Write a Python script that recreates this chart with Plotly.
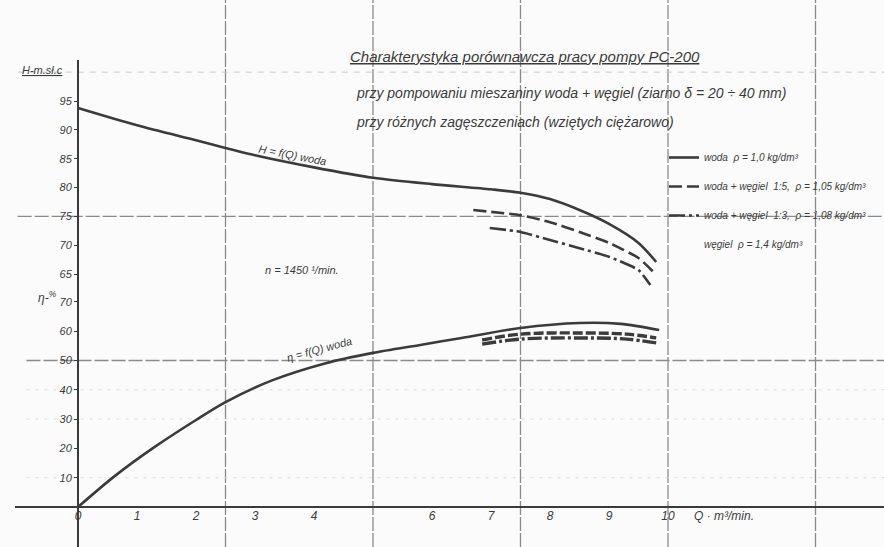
import plotly.graph_objects as go

# ---------------- data ----------------
Q_h_woda = [0, 1, 2, 3, 4, 5, 6, 7, 7.5, 8, 8.5, 9, 9.5, 9.8]
H_woda = [93.8, 90.8, 88.2, 85.6, 83.5, 81.7, 80.6, 79.7, 79.1, 78.0, 76.1, 73.7, 70.4, 67.1]

Q_h_15 = [6.7, 7.5, 8, 8.5, 9, 9.5, 9.75]
H_15 = [76.1, 75.2, 74.0, 72.3, 70.4, 67.8, 65.4]

Q_h_13 = [6.98, 7.5, 8, 8.5, 9, 9.5, 9.7]
H_13 = [73.0, 72.3, 70.9, 69.5, 68.0, 65.7, 63.1]

Q_eta_woda = [0, 0.6, 1.3, 2, 2.5, 3.3, 4.2, 5, 5.8, 6.5, 7.5, 8.5, 9.2, 9.85]
eta_woda = [0, 10.2, 20.5, 29.7, 35.8, 43.3, 49.1, 52.6, 55.3, 57.7, 61.1, 62.8, 62.5, 60.4]

Q_eta_15 = [6.85, 7.5, 8.5, 9.3, 9.8]
eta_15 = [57.0, 59.0, 59.4, 59.0, 57.7]
Q_eta_13 = [6.85, 7.5, 8.5, 9.3, 9.8]
eta_13 = [55.6, 57.3, 57.7, 57.3, 56.0]

x_ticks = [0, 1, 2, 3, 4, 6, 7, 8, 9, 10]
H_ticks = [65, 70, 75, 80, 85, 90, 95]
eta_ticks = [10, 20, 30, 40, 50, 60, 70]
v_grid = [2.5, 5, 7.5, 10, 12.5]
H_grid = [75]
H_faint = [100]
eta_grid = [50]
eta_faint = [10, 30, 40]

legend_names = [
    "woda  ρ = 1,0 kg/dm³",
    "woda + węgiel  1:5,  ρ = 1,05 kg/dm³",
    "woda + węgiel  1:3,  ρ = 1,08 kg/dm³",
    "węgiel  ρ = 1,4 kg/dm³",
]

# ---------------- styling ----------------
INK = "#3b3b3b"
GRID = "#8a8a8a"
FONT = "Liberation Sans, Arial, sans-serif"
W, Hpx = 884, 547

# pixel mapping of the original sheet
x_range = [(0 - 78) / 59, (W - 78) / 59]
eta_range = [(507 - Hpx) / 2.93, 507 / 2.93]
H_range = [95 - (Hpx - 101) / 5.77, 95 + 101 / 5.77]

fig = go.Figure()

fig.add_trace(go.Scatter(x=Q_h_woda, y=H_woda, yaxis="y2", mode="lines",
                         line=dict(color=INK, width=2.6, shape="spline", smoothing=0.8),
                         name=legend_names[0], legendgroup="a"))
fig.add_trace(go.Scatter(x=Q_h_15, y=H_15, yaxis="y2", mode="lines",
                         line=dict(color=INK, width=2.6, shape="spline", smoothing=0.5, dash="13px,5px"),
                         name=legend_names[1], legendgroup="b"))
fig.add_trace(go.Scatter(x=Q_h_13, y=H_13, yaxis="y2", mode="lines",
                         line=dict(color=INK, width=2.6, shape="spline", smoothing=0.5,
                                   dash="16px,4px,3px,4px"),
                         name=legend_names[2], legendgroup="c"))
fig.add_trace(go.Scatter(x=[None], y=[None], mode="lines",
                         line=dict(color="rgba(0,0,0,0)", width=0),
                         name=legend_names[3], legendgroup="d"))

fig.add_trace(go.Scatter(x=Q_eta_woda, y=eta_woda, mode="lines",
                         line=dict(color=INK, width=2.6, shape="spline", smoothing=0.8),
                         legendgroup="a", showlegend=False))
fig.add_trace(go.Scatter(x=Q_eta_15, y=eta_15, mode="lines",
                         line=dict(color=INK, width=3.4, shape="spline", dash="10px,3px"),
                         legendgroup="b", showlegend=False))
fig.add_trace(go.Scatter(x=Q_eta_13, y=eta_13, mode="lines",
                         line=dict(color=INK, width=3.4, shape="spline", dash="14px,3px,3px,3px"),
                         legendgroup="c", showlegend=False))

# grid lines
for q in v_grid:
    fig.add_shape(type="line", xref="x", yref="paper", x0=q, x1=q, y0=0, y1=1,
                  line=dict(color=GRID, width=1.3, dash="14px,2px"), layer="below")
for h in H_grid:
    fig.add_shape(type="line", xref="paper", yref="y2", x0=0.02, x1=1, y0=h, y1=h,
                  line=dict(color=GRID, width=1.3, dash="14px,3px"), layer="below")
for h in H_faint:
    fig.add_shape(type="line", xref="paper", yref="y2", x0=0.02, x1=1, y0=h, y1=h,
                  line=dict(color="#c8c8c8", width=1, dash="6px,6px"), layer="below")
for e in eta_grid:
    fig.add_shape(type="line", xref="paper", yref="y", x0=0.03, x1=1, y0=e, y1=e,
                  line=dict(color=GRID, width=1.3, dash="14px,3px"), layer="below")
for e in eta_faint:
    fig.add_shape(type="line", xref="paper", yref="y", x0=0.03, x1=1, y0=e, y1=e,
                  line=dict(color="#dadada", width=1, dash="3px,6px"), layer="below")

# axis lines
fig.add_shape(type="line", xref="x", yref="paper", x0=0, x1=0, y0=0, y1=1 - 60 / Hpx,
              line=dict(color=INK, width=2))
fig.add_shape(type="line", xref="paper", yref="y", x0=15 / W, x1=1, y0=0, y1=0,
              line=dict(color=INK, width=2))

italic = dict(family=FONT, color=INK, style="italic")

fig.update_layout(
    width=W, height=Hpx,
    margin=dict(l=0, r=0, t=0, b=0),
    paper_bgcolor="#fbfbfb", plot_bgcolor="#fbfbfb",
    font=dict(family=FONT, color=INK, size=12, style="italic"),
    showlegend=True,
    legend=dict(x=664 / W, y=1 - 143 / Hpx, xanchor="left", yanchor="top",
                bgcolor="rgba(0,0,0,0)", font=dict(size=10, **italic),
                traceorder="grouped", tracegroupgap=10, itemwidth=30),
    xaxis=dict(range=x_range, anchor="free", position=1 - 507 / Hpx,
               tickvals=x_ticks, ticktext=[str(v) for v in x_ticks],
               showgrid=False, zeroline=False, showline=False, ticks="",
               tickfont=dict(size=12, **italic)),
    yaxis=dict(range=eta_range, anchor="free", position=78 / W, side="left",
               tickvals=eta_ticks, showgrid=False, zeroline=False, showline=False,
               ticks="outside", ticklen=4, tickcolor=INK,
               tickfont=dict(size=11, **italic)),
    yaxis2=dict(range=H_range, anchor="free", position=78 / W, side="left", overlaying="y",
                tickvals=H_ticks, showgrid=False, zeroline=False, showline=False,
                ticks="outside", ticklen=4, tickcolor=INK,
                tickfont=dict(size=11, **italic)),
)

ann = [
    dict(text="<u>Charakterystyka porównawcza pracy pompy PC-200</u>",
         xref="paper", yref="paper", x=348 / W, y=1 - 57 / Hpx, xanchor="left", yanchor="middle",
         font=dict(size=15, **italic)),
    dict(text="przy pompowaniu mieszaniny woda + węgiel (ziarno δ = 20 ÷ 40 mm)",
         xref="paper", yref="paper", x=354 / W, y=1 - 93 / Hpx, xanchor="left", yanchor="middle",
         font=dict(size=14, **italic)),
    dict(text="przy różnych zagęszczeniach (wziętych ciężarowo)",
         xref="paper", yref="paper", x=354 / W, y=1 - 122 / Hpx, xanchor="left", yanchor="middle",
         font=dict(size=14, **italic)),
    dict(text="<u>H-m.sł.c</u>", xref="paper", yref="paper", x=20 / W, y=1 - 70 / Hpx,
         xanchor="left", yanchor="middle", font=dict(size=11, **italic)),
    dict(text="η-<sup>%</sup>", xref="paper", yref="paper", x=36 / W, y=1 - 297 / Hpx,
         xanchor="left", yanchor="middle", font=dict(size=12, **italic)),
    dict(text="Q · m³/min.", xref="x", yref="paper", x=10.4, y=1 - 516 / Hpx,
         xanchor="left", yanchor="middle", font=dict(size=12, **italic)),
    dict(text="H = f(Q) woda", xref="x", yref="y2", x=3.63, y=85.6, textangle=11,
         xanchor="center", yanchor="middle", font=dict(size=11, **italic)),
    dict(text="η = f(Q) woda", xref="x", yref="y", x=4.1, y=53.8, textangle=-15,
         xanchor="center", yanchor="middle", font=dict(size=11, **italic)),
    dict(text="n = 1450 ¹/min.", xref="x", yref="y2", x=3.8, y=65.7,
         xanchor="center", yanchor="middle", font=dict(size=11, **italic)),
]
for a in ann:
    a["showarrow"] = False
    fig.add_annotation(**a)

fig.write_html("out.html",
               config={"displayModeBar": False},
               post_script="document.body.style.margin='0';document.body.style.overflow='hidden';")
